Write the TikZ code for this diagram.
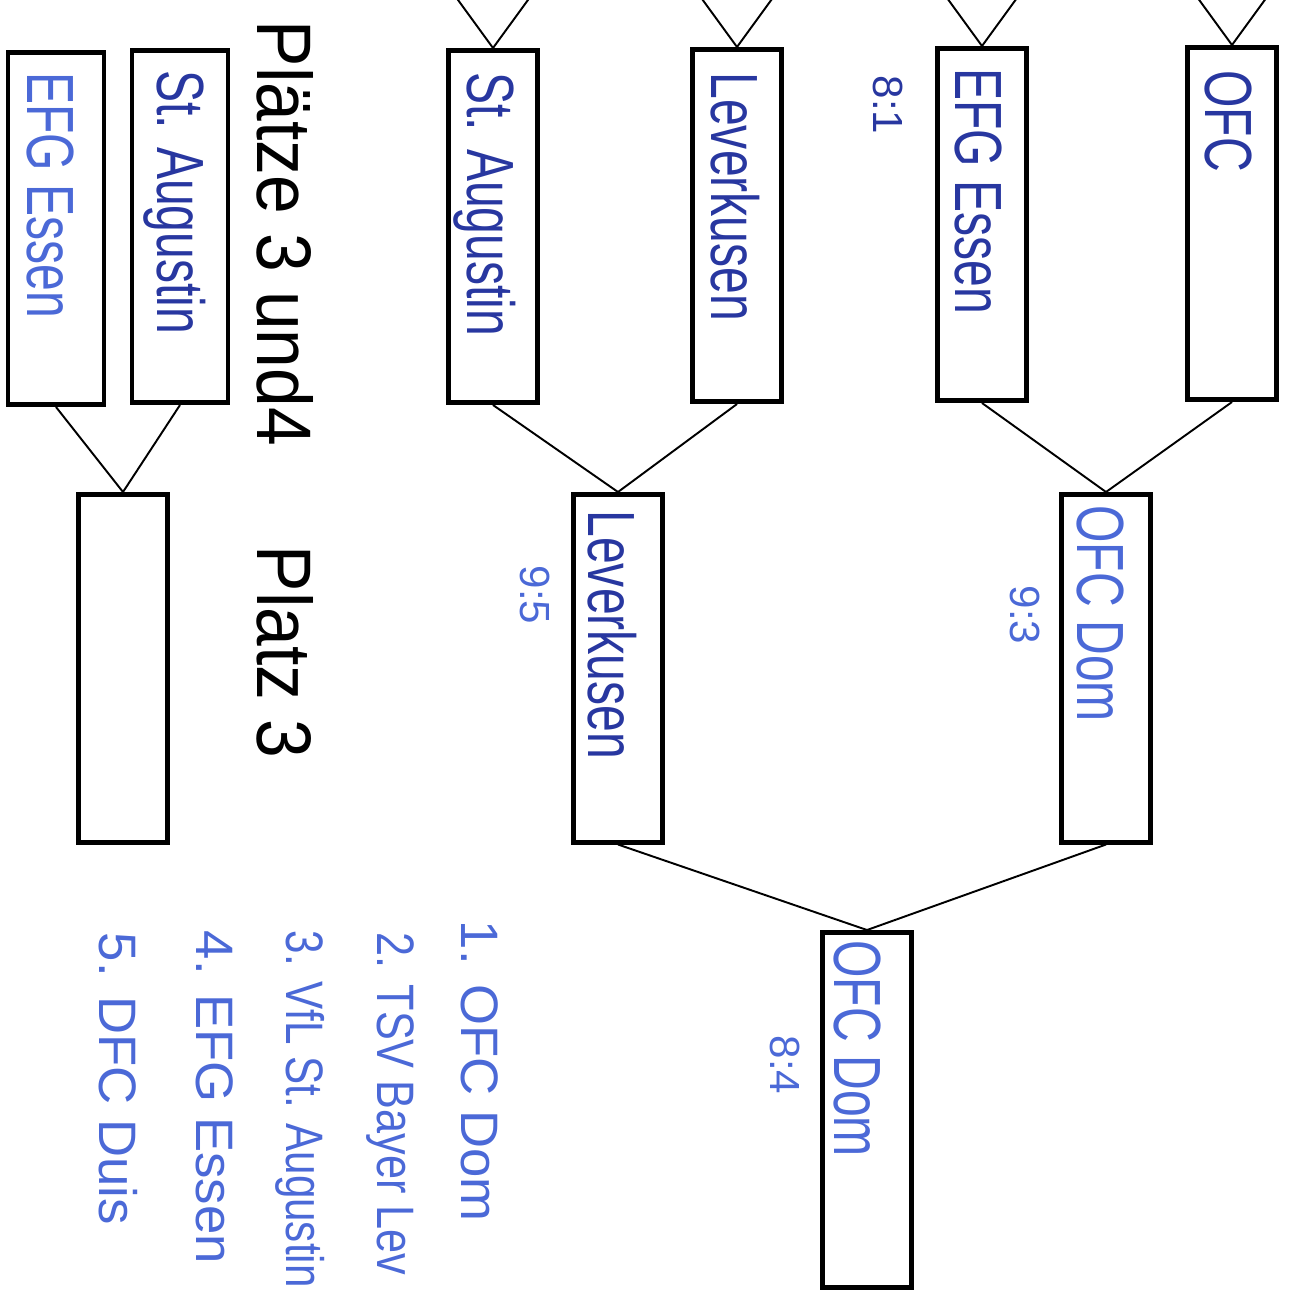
\documentclass[tikz,border=0pt]{standalone}
\usepackage{fontspec}
\setmainfont{Liberation Sans}
\usetikzlibrary{positioning,calc}
\definecolor{inkdark}{RGB}{40,55,160}
\definecolor{inklight}{RGB}{75,105,215}

\begin{document}
\begin{tikzpicture}[x=0.02cm, y=-0.02cm, thick,
    box/.style={draw, line width=2.6pt, minimum width=1.78cm, minimum height=7.05cm, inner sep=0pt, anchor=north},
    team/.style={rotate=-90, anchor=west, xscale=0.72, inner sep=0pt, font=\fontsize{38}{40}\selectfont},
    score/.style={rotate=-90, anchor=west, inner sep=0pt, font=\fontsize{24}{26}\selectfont},
    rank/.style={rotate=-90, anchor=west, inner sep=0pt, text=inklight, font=\fontsize{30}{32}\selectfont},
    head/.style={rotate=-90, anchor=base west, xscale=0.9, inner sep=0pt, font=\fontsize{44}{46}\selectfont},
    link/.style={line width=1.1pt}]
    \useasboundingbox (0,0) rectangle (1295,1303);
    \clip (0,0) rectangle (1295,1303);

    % Viertelfinale
    \node[box] (vfOFC) at (1232,45) {};
    \node[box] (vfEssen) at (982,46) {};
    \node[box] (vfLev) at (737,47) {};
    \node[box] (vfAug) at (493,48) {};
    % Halbfinale und Finale
    \node[box, minimum height=6.96cm] (hfOFC) at (1106,492) {};
    \node[box, minimum height=6.96cm] (hfLev) at (618,492) {};
    \node[box, minimum height=7.1cm] (final) at (867,930) {};
    % Spiel um Platz 3
    \node[box, minimum width=1.92cm] (pAug) at (180,48) {};
    \node[box, minimum width=1.92cm] (pEssen) at (56,50) {};
    \node[box, minimum height=6.96cm] (platz3) at (123,492) {};

    \foreach \b in {vfOFC,vfEssen,vfLev,vfAug}
        \draw[link] (\b.north) -- ++(-67,-92) (\b.north) -- ++(67,-92);
    \draw[link] (vfOFC.south) -- (hfOFC.north) -- (vfEssen.south);
    \draw[link] (vfLev.south) -- (hfLev.north) -- (vfAug.south);
    \draw[link] (hfOFC.south) -- (final.north) -- (hfLev.south);
    \draw[link] (pAug.south) -- (platz3.north) -- (pEssen.south);

    % Mannschaften
    \node[team, text=inkdark] (tOFC) at (1228,70) {OFC};
    \node[team, text=inkdark] (tEssen) at (978,68) {EFG Essen};
    \node[team, text=inkdark] (tLev) at (735,72) {Leverkusen};
    \node[team, text=inkdark] (tAug) at (485,72) {St. Augustin};
    \node[team, text=inklight] (tHfOFC) at (1100,505) {OFC Dom};
    \node[team, text=inkdark] (tHfLev) at (612,510) {Leverkusen};
    \node[team, text=inklight] (tFinal) at (857,940) {OFC Dom};
    \node[team, text=inkdark] (tPAug) at (175,70) {St. Augustin};
    \node[team, text=inklight] (tPEssen) at (50,72) {EFG Essen};

    % Ergebnisse
    \node[score, text=inkdark] (s1) at (888,75) {8:1};
    \node[score, text=inklight] (s2) at (1025,585) {9:3};
    \node[score, text=inklight] (s3) at (535,565) {9:5};
    \node[score, text=inklight] (s4) at (785,1035) {8:4};

    \node[head] (hPlaetze) at (257,20) {Plätze 3 und4};
    \node[head] (hPlatz) at (257,545) {Platz 3};

    % Endstand
    \node[rank] (r1) at (480,920) {1. OFC Dom};
    \node[rank, xscale=0.82] (r2) at (390,932) {2. TSV Bayer Lev};
    \node[rank, xscale=0.8] (r3) at (300,930) {3. VfL St. Augustin};
    \node[rank] (r4) at (215,930) {4. EFG Essen};
    \node[rank] (r5) at (118,932) {5. DFC Duis};
\end{tikzpicture}
\end{document}
